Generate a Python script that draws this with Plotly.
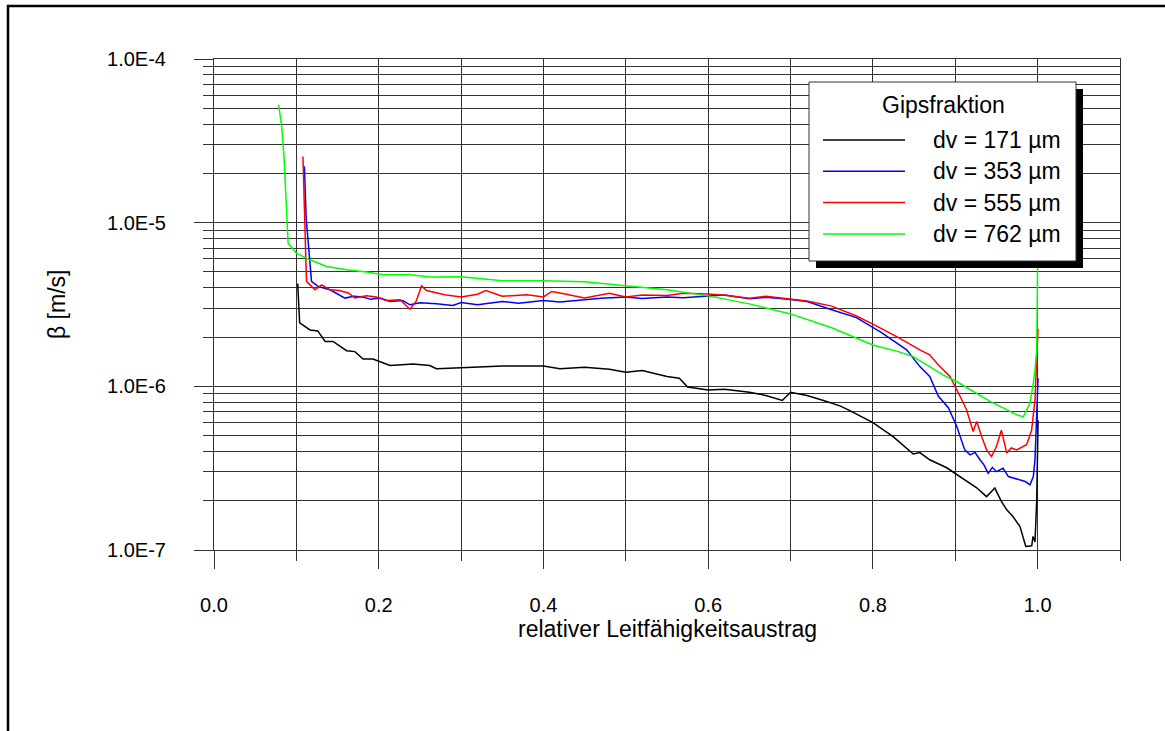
import plotly.graph_objects as go

# ---------------- data ----------------
x_171 = [0.1016, 0.104, 0.1166, 0.126, 0.135, 0.1445, 0.161, 0.171, 0.181, 0.193, 0.2137, 0.2416, 0.262,
         0.27, 0.30, 0.35, 0.40, 0.42, 0.45, 0.48, 0.50, 0.52, 0.55, 0.565, 0.575, 0.60, 0.62, 0.65, 0.67,
         0.69, 0.70, 0.72, 0.74, 0.76, 0.772, 0.80,
         0.8245, 0.849, 0.857, 0.869, 0.8896, 0.9058, 0.926, 0.938, 0.948, 0.956, 0.9625, 0.97,
         0.9786, 0.9856, 0.9928, 0.9944, 0.9968, 0.9989, 1.0005]
y_171 = [4.24e-6, 2.44e-6, 2.21e-6, 2.18e-6, 1.88e-6, 1.88e-6, 1.65e-6, 1.63e-6, 1.47e-6, 1.47e-6, 1.34e-6, 1.37e-6, 1.34e-6,
         1.28e-6, 1.30e-6, 1.33e-6, 1.33e-6, 1.28e-6, 1.31e-6, 1.27e-6, 1.22e-6, 1.25e-6, 1.15e-6, 1.12e-6, 9.9e-7, 9.5e-7, 9.6e-7, 9.2e-7, 8.8e-7,
         8.2e-7, 9.2e-7, 8.8e-7, 8.2e-7, 7.6e-7, 7.1e-7, 6.0e-7,
         4.93e-7, 3.86e-7, 3.94e-7, 3.56e-7, 3.18e-7, 2.81e-7, 2.40e-7, 2.12e-7, 2.39e-7, 1.98e-7, 1.76e-7, 1.60e-7,
         1.39e-7, 1.05e-7, 1.06e-7, 1.21e-7, 1.12e-7, 2.02e-7, 6.2e-7]

x_353 = [0.1097, 0.112, 0.1184, 0.1267, 0.1408, 0.159, 0.17, 0.181, 0.19, 0.2016, 0.2137, 0.229, 0.238, 0.25,
         0.27, 0.29, 0.30, 0.32, 0.35, 0.37, 0.40, 0.42, 0.45, 0.47, 0.50, 0.52, 0.55, 0.57, 0.60, 0.62, 0.65, 0.67,
         0.70, 0.72, 0.75, 0.78, 0.81, 0.841, 0.857, 0.869,
         0.8795, 0.8916, 0.9017, 0.9115, 0.918, 0.924, 0.930, 0.935, 0.940, 0.945, 0.950, 0.958, 0.9645, 0.972, 0.9786, 0.985, 0.9907,
         0.9948, 0.9968, 0.9989, 1.0005]
y_353 = [2.21e-5, 1.05e-5, 4.38e-6, 4.07e-6, 3.89e-6, 3.46e-6, 3.55e-6, 3.51e-6, 3.40e-6, 3.46e-6, 3.30e-6, 3.34e-6, 3.15e-6, 3.24e-6,
         3.20e-6, 3.12e-6, 3.25e-6, 3.15e-6, 3.30e-6, 3.22e-6, 3.34e-6, 3.28e-6, 3.38e-6, 3.45e-6, 3.52e-6, 3.44e-6, 3.52e-6, 3.48e-6, 3.57e-6, 3.62e-6, 3.43e-6, 3.50e-6,
         3.39e-6, 3.30e-6, 2.94e-6, 2.63e-6, 2.14e-6, 1.67e-6, 1.32e-6, 1.15e-6,
         8.7e-7, 7.4e-7, 5.7e-7, 4.09e-7, 3.81e-7, 3.95e-7, 3.56e-7, 3.30e-7, 2.94e-7, 3.20e-7, 3.01e-7, 3.16e-7, 2.81e-7, 2.75e-7, 2.68e-7, 2.62e-7, 2.50e-7,
         2.81e-7, 3.56e-7, 6.5e-7, 1.12e-6]

x_555 = [0.108, 0.1105, 0.1123, 0.1226, 0.1307, 0.1408, 0.152, 0.163, 0.171, 0.185, 0.197, 0.2094, 0.226, 0.238,
         0.2455, 0.252, 0.258, 0.28, 0.30, 0.32, 0.33, 0.35, 0.38, 0.40, 0.41, 0.42, 0.45, 0.48, 0.50, 0.52, 0.55, 0.57,
         0.60, 0.62, 0.65, 0.67, 0.70, 0.72, 0.75, 0.78, 0.80, 0.83, 0.857, 0.869, 0.8795, 0.8936, 0.9058, 0.9137, 0.9217, 0.926, 0.932,
         0.938, 0.944, 0.950, 0.956, 0.9625, 0.968, 0.9745, 0.9866, 0.9927, 0.9968, 0.9989, 1.0005]
y_555 = [2.54e-5, 1.0e-5, 4.38e-6, 3.89e-6, 4.17e-6, 3.89e-6, 3.85e-6, 3.72e-6, 3.47e-6, 3.57e-6, 3.51e-6, 3.34e-6, 3.38e-6, 2.96e-6,
         3.31e-6, 4.11e-6, 3.85e-6, 3.63e-6, 3.52e-6, 3.65e-6, 3.85e-6, 3.55e-6, 3.63e-6, 3.52e-6, 3.80e-6, 3.72e-6, 3.47e-6, 3.70e-6, 3.52e-6, 3.62e-6, 3.59e-6, 3.70e-6,
         3.67e-6, 3.60e-6, 3.45e-6, 3.55e-6, 3.39e-6, 3.32e-6, 3.09e-6, 2.69e-6, 2.40e-6, 2.0e-6, 1.67e-6, 1.56e-6, 1.35e-6, 1.15e-6, 8.7e-7, 7.2e-7, 5.3e-7, 6.1e-7, 4.93e-7,
         4.09e-7, 3.72e-7, 4.29e-7, 5.4e-7, 3.91e-7, 4.20e-7, 4.09e-7, 4.40e-7, 5.4e-7, 8.3e-7, 1.67e-6, 2.24e-6]

x_762 = [0.0785, 0.0822, 0.085, 0.087, 0.09, 0.100, 0.1163, 0.1368, 0.161, 0.1855, 0.2056, 0.238, 0.262,
         0.30, 0.35, 0.40, 0.45, 0.50, 0.55, 0.60, 0.65, 0.70, 0.75, 0.80, 0.8309, 0.849, 0.869, 0.8856,
         0.9015, 0.9217, 0.9422, 0.9625, 0.9745, 0.9826, 0.9907, 0.9948, 0.9968, 0.9989, 1.0005]
y_762 = [5.26e-5, 3.87e-5, 2.54e-5, 1.41e-5, 7.5e-6, 6.52e-6, 5.93e-6, 5.40e-6, 5.15e-6, 4.99e-6, 4.81e-6, 4.81e-6, 4.65e-6,
         4.67e-6, 4.42e-6, 4.42e-6, 4.36e-6, 4.12e-6, 3.89e-6, 3.57e-6, 3.19e-6, 2.77e-6, 2.28e-6, 1.79e-6, 1.63e-6, 1.52e-6, 1.32e-6, 1.17e-6,
         1.07e-6, 9.3e-7, 8.1e-7, 7.2e-7, 6.7e-7, 6.5e-7, 7.9e-7, 1.05e-6, 1.26e-6, 1.67e-6, 1.0e-5]

series_names = ["dv = 171 µm", "dv = 353 µm", "dv = 555 µm", "dv = 762 µm"]
series_colors = ["#000000", "#0000ff", "#ff0000", "#00ff00"]
series_x = [x_171, x_353, x_555, x_762]
series_y = [y_171, y_353, y_555, y_762]

y_tickvals = [1e-7, 1e-6, 1e-5, 1e-4]
y_ticktext = ["1.0E-7", "1.0E-6", "1.0E-5", "1.0E-4"]
legend_title = "Gipsfraktion"
x_title = "relativer Leitfähigkeitsaustrag"
y_title = "β [m/s]"

# ---------------- layout geometry (pixels) ----------------
FW, FH = 1165, 731
L, R, T, B = 214, 1120, 59, 550
FONT = "Arial, Liberation Sans, sans-serif"
GRID = "#333333"


def px(xp):
    return (xp - L) / (R - L)


def py(yp):
    return (B - yp) / (B - T)


fig = go.Figure()
for xs, ys, name, col in zip(series_x, series_y, series_names, series_colors):
    fig.add_trace(go.Scatter(x=xs, y=ys, mode="lines", name=name,
                             line=dict(color=col, width=1.5), showlegend=False))

shapes = []
annotations = []

# outer frame
shapes.append(dict(type="rect", xref="paper", yref="paper", x0=px(8), x1=px(1250), y0=py(6), y1=py(800),
                   line=dict(color="black", width=2.5), fillcolor="rgba(0,0,0,0)", layer="above"))

# custom legend box with shadow
shapes.append(dict(type="rect", xref="paper", yref="paper", x0=px(816), x1=px(1083), y0=py(89), y1=py(268),
                   line=dict(color="black", width=0), fillcolor="black", layer="above"))
shapes.append(dict(type="rect", xref="paper", yref="paper", x0=px(809), x1=px(1076), y0=py(82), y1=py(261),
                   line=dict(color="#333333", width=1), fillcolor="white", layer="above"))
annotations.append(dict(text=legend_title, xref="paper", yref="paper", x=px(943), y=py(105),
                        xanchor="center", yanchor="middle", showarrow=False,
                        font=dict(family=FONT, size=23, color="black")))
for i, (name, col) in enumerate(zip(series_names, series_colors)):
    yy = 140 + i * 31.3
    shapes.append(dict(type="line", xref="paper", yref="paper", x0=px(823), x1=px(905), y0=py(yy), y1=py(yy),
                       line=dict(color=col, width=1.5), layer="above"))
    annotations.append(dict(text=name, xref="paper", yref="paper", x=px(931), y=py(yy),
                            xanchor="left", yanchor="middle", showarrow=False,
                            font=dict(family=FONT, size=23, color="black")))

# axis titles
annotations.append(dict(text=x_title, xref="paper", yref="paper", x=px(667), y=py(629),
                        xanchor="center", yanchor="middle", showarrow=False,
                        font=dict(family=FONT, size=23, color="black")))
annotations.append(dict(text=y_title, xref="paper", yref="paper", x=px(57), y=py(305),
                        xanchor="center", yanchor="middle", showarrow=False, textangle=-90,
                        font=dict(family=FONT, size=23, color="black")))

fig.update_layout(
    width=FW, height=FH,
    margin=dict(l=L, r=FW - R, t=T, b=FH - B, pad=0),
    paper_bgcolor="white", plot_bgcolor="white",
    font=dict(family=FONT, size=20, color="black"),
    shapes=shapes, annotations=annotations,
    showlegend=False,
    xaxis=dict(range=[0, 1.1], tick0=0, dtick=0.2, tickformat=".1f",
               ticks="outside", ticklen=18, tickwidth=1, tickcolor=GRID,
               showgrid=True, gridcolor=GRID, gridwidth=1, zeroline=False,
               showline=True, mirror=True, linecolor=GRID, linewidth=1,
               ticklabelstandoff=19,
               minor=dict(dtick=0.1, tick0=0, ticks="outside", ticklen=10, tickcolor=GRID,
                          showgrid=True, gridcolor=GRID, gridwidth=1),
               tickfont=dict(family=FONT, size=20, color="black")),
    yaxis=dict(type="log", range=[-7, -4], tickvals=y_tickvals, ticktext=y_ticktext,
               ticks="outside", ticklen=19, tickwidth=1, tickcolor=GRID,
               showgrid=True, gridcolor=GRID, gridwidth=1, zeroline=False,
               showline=True, mirror=True, linecolor=GRID, linewidth=1,
               ticklabelstandoff=24,
               minor=dict(dtick="D1", ticks="outside", ticklen=10, tickcolor=GRID,
                          showgrid=True, gridcolor=GRID, gridwidth=1),
               tickfont=dict(family=FONT, size=20, color="black")),
)

fig.write_html("out.html", config={"displayModeBar": False},
               post_script="document.body.style.margin='0';document.body.style.overflow='hidden';")
